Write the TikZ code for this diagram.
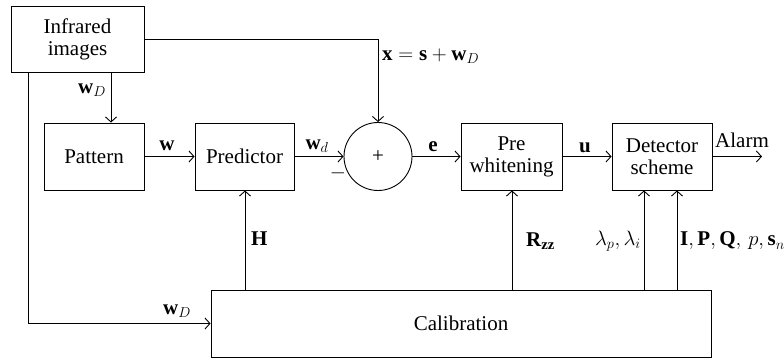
\documentclass[tikz,border=0pt]{standalone}
\usepackage{fontspec}
\setmainfont{Liberation Serif}
\usetikzlibrary{arrows.meta,calc}
\begin{document}
\begin{tikzpicture}[x=1pt,y=-1pt,
  every node/.style={font=\fontsize{21}{22}\selectfont},
  blk/.style={draw,line width=0.9pt,rectangle,inner sep=0pt,align=center},
  conn/.style={line width=0.9pt,-{Straight Barb[length=5pt,width=11pt,line width=0.9pt]}},
  wire/.style={line width=0.9pt},
  lbl/.style={inner sep=0pt}]
\useasboundingbox (0,0) rectangle (784,359);
\node[blk,minimum width=133pt,minimum height=66pt] (inf) at (77.5,39) {Infrared\\images};
\node[blk,minimum width=100pt,minimum height=67pt] (pat) at (94,156.5) {Pattern};
\node[blk,minimum width=99pt,minimum height=67pt] (pred) at (244.5,156.5) {Predictor};
\node[draw,line width=0.9pt,circle,minimum size=68pt,inner sep=0pt] (sum) at (378,156.5) {+};
\node[blk,minimum width=101pt,minimum height=67pt] (pre) at (511.5,156.5) {Pre\\whitening};
\node[blk,minimum width=100pt,minimum height=67pt] (det) at (662,156.5) {Detector\\scheme};
\node[blk,minimum width=500pt,minimum height=67pt] (cal) at (461,323.5) {Calibration};
% free ends / branch points
\coordinate (wdtop) at (111,72);
\coordinate (ltop) at (28,72);
\coordinate (hbot) at (245,290);
\coordinate (rbot) at (512,290);
\coordinate (lbot) at (644,290);
\coordinate (ibot) at (677,290);
\coordinate (alarm) at (762,156.5);
% connectors
\draw[conn] (inf.east) -| (sum.north);
\draw[conn] (wdtop) -- (wdtop |- pat.north);
\draw[conn] (ltop) |- (cal.west);
\draw[conn] (pat) -- (pred);
\draw[conn] (pred) -- (sum);
\draw[conn] (sum) -- (pre);
\draw[conn] (pre) -- (det);
\draw[conn] (det) -- (alarm);
\draw[conn] (hbot) -- (hbot |- pred.south);
\draw[conn] (rbot) -- (rbot |- pre.south);
\draw[conn] (lbot) -- (lbot |- det.south);
\draw[conn] (ibot) -- (ibot |- det.south);
% labels
\node[lbl,anchor=west] (lx) at (382,56) {$\mathbf{x}=\mathbf{s}+\mathbf{w}_D$};
\node[lbl] (lwd1) at (92,90) {$\mathbf{w}_D$};
\node[lbl] (lwd2) at (177,311) {$\mathbf{w}_D$};
\node[lbl] (lw) at (167,146) {$\mathbf{w}$};
\node[lbl] (lwdd) at (317,146) {$\mathbf{w}_d$};
\node[lbl] (lminus) at (338,173) {$-$};
\node[lbl] (le) at (433,147) {$\mathbf{e}$};
\node[lbl] (lu) at (585,148) {$\mathbf{u}$};
\node[lbl] (lalarm) at (742,140) {Alarm};
\node[lbl,anchor=west] (lH) at (251,239) {$\mathbf{H}$};
\node[lbl,anchor=west] (lR) at (526,241) {$\mathbf{R}_{\mathbf{zz}}$};
\node[lbl,anchor=east] (llam) at (641,241) {$\lambda_p,\lambda_i$};
\node[lbl,anchor=west] (lI) at (680,241) {$\mathbf{I},\mathbf{P},\mathbf{Q},\,p,\mathbf{s}_n$};
\end{tikzpicture}
\end{document}
